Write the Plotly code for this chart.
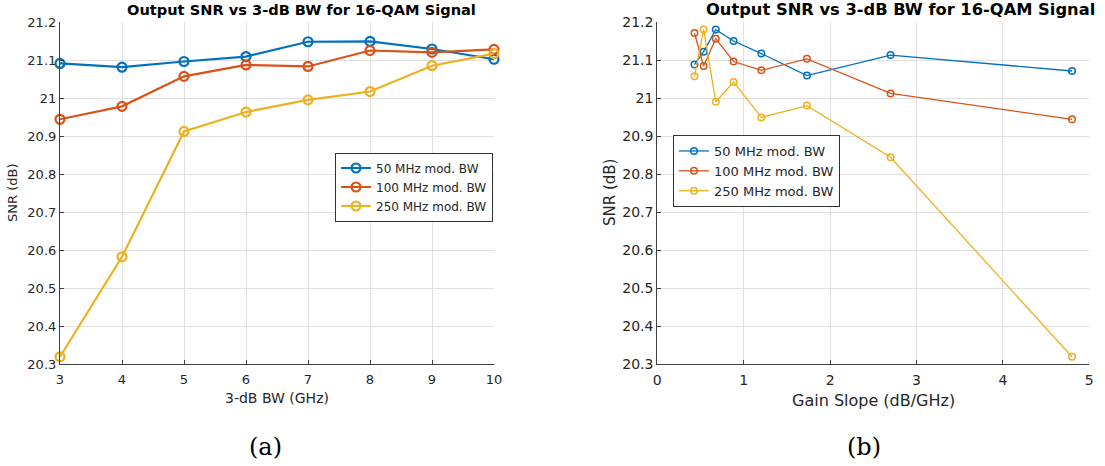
import plotly.graph_objects as go

# ---- data ----
bw_ghz = [3, 4, 5, 6, 7, 8, 9, 10]
snr_bw_50 = [21.091, 21.081, 21.096, 21.109, 21.148, 21.149, 21.129, 21.102]
snr_bw_100 = [20.944, 20.978, 21.057, 21.087, 21.083, 21.125, 21.120, 21.128]
snr_bw_250 = [20.319, 20.582, 20.912, 20.963, 20.995, 21.017, 21.085, 21.117]

gain_slope = [0.43, 0.536, 0.677, 0.883, 1.204, 1.732, 2.70, 4.80]
snr_gs_50 = [21.088, 21.122, 21.180, 21.150, 21.117, 21.059, 21.113, 21.071]
snr_gs_100 = [21.171, 21.084, 21.156, 21.096, 21.073, 21.103, 21.012, 20.944]
snr_gs_250 = [21.057, 21.180, 20.990, 21.042, 20.949, 20.980, 20.844, 20.319]

series_names = ["50 MHz mod. BW", "100 MHz mod. BW", "250 MHz mod. BW"]
colors = ["#0072BD", "#D95319", "#EDB120"]
title_text = "Output SNR vs 3-dB BW for 16-QAM Signal"

W, H = 1105, 466
FONT = "DejaVu Sans"
TXT = "#262626"


def px_x(p):
    return p / W


def px_y(p):
    return 1 - p / H


fig = go.Figure()

left_sets = [snr_bw_50, snr_bw_100, snr_bw_250]
right_sets = [snr_gs_50, snr_gs_100, snr_gs_250]

for name, col, ys in zip(series_names, colors, left_sets):
    fig.add_trace(go.Scatter(
        x=bw_ghz, y=ys, name=name, mode="lines+markers",
        line=dict(color=col, width=2.2),
        marker=dict(symbol="circle-open", size=9, color=col, line=dict(width=2.2, color=col)),
        xaxis="x", yaxis="y", legend="legend", cliponaxis=False,
    ))

for name, col, ys in zip(series_names, colors, right_sets):
    fig.add_trace(go.Scatter(
        x=gain_slope, y=ys, name=name, mode="lines+markers",
        line=dict(color=col, width=1.3),
        marker=dict(symbol="circle-open", size=6.5, color=col, line=dict(width=1.5, color=col)),
        xaxis="x2", yaxis="y2", legend="legend2", cliponaxis=False,
    ))

grid = "#e0e0e0"
ydom = [px_y(364), px_y(22)]

common_ax = dict(showgrid=True, gridcolor=grid, gridwidth=1, zeroline=False,
                 showline=True, linecolor="#404040", linewidth=1.2,
                 ticks="inside", ticklen=4, tickcolor="#404040",
                 color=TXT, mirror=False, automargin=False)

fig.update_layout(
    width=W, height=H,
    margin=dict(l=0, r=0, t=0, b=0, pad=0),
    paper_bgcolor="white", plot_bgcolor="white",
    showlegend=True,
    font=dict(family=FONT, color=TXT),
    xaxis=dict(domain=[px_x(60), px_x(494)], range=[3, 10], dtick=1, anchor="y",
               ticklabelstandoff=3,
               tickfont=dict(size=13, family=FONT), **common_ax),
    yaxis=dict(domain=ydom, range=[20.3, 21.2], dtick=0.1, anchor="x",
               tickformat="~r", tickfont=dict(size=13, family=FONT), **common_ax),
    xaxis2=dict(domain=[px_x(657.3), px_x(1089.3)], range=[0, 5], dtick=1, anchor="y2",
                ticklabelstandoff=3,
                tickfont=dict(size=14, family=FONT), **common_ax),
    yaxis2=dict(domain=ydom, range=[20.3, 21.2], dtick=0.1, anchor="x2",
                tickformat="~r", tickfont=dict(size=14, family=FONT), **common_ax),
    legend=dict(x=px_x(335), y=px_y(187), xanchor="left", yanchor="middle",
                bgcolor="white", bordercolor="#333333", borderwidth=1,
                font=dict(size=12, family=FONT, color=TXT),
                tracegroupgap=0, itemwidth=30),
    legend2=dict(x=px_x(673), y=px_y(171), xanchor="left", yanchor="middle",
                 bgcolor="white", bordercolor="#333333", borderwidth=1,
                 font=dict(size=13, family=FONT, color=TXT),
                 tracegroupgap=0, itemwidth=30),
)

ann = [
    dict(x=px_x(302), y=px_y(10), text=f"<b>{title_text}</b>", font=dict(size=14.6, family=FONT, color="black")),
    dict(x=px_x(900), y=px_y(10), text=f"<b>{title_text}</b>", font=dict(size=16.3, family=FONT, color="black")),
    dict(x=px_x(277), y=px_y(398), text="3-dB BW (GHz)", font=dict(size=14, family=FONT, color=TXT)),
    dict(x=px_x(873), y=px_y(400), text="Gain Slope (dB/GHz)", font=dict(size=16, family=FONT, color=TXT)),
    dict(x=px_x(12), y=px_y(193), text="SNR (dB)", textangle=-90, font=dict(size=13, family=FONT, color=TXT)),
    dict(x=px_x(610), y=px_y(193), text="SNR (dB)", textangle=-90, font=dict(size=15, family=FONT, color=TXT)),
    dict(x=px_x(265.5), y=px_y(447), text="(a)", font=dict(size=24, family="DejaVu Serif", color="black")),
    dict(x=px_x(864), y=px_y(447), text="(b)", font=dict(size=24, family="DejaVu Serif", color="black")),
]
for a in ann:
    a.update(xref="paper", yref="paper", showarrow=False, xanchor="center", yanchor="middle")
    fig.add_annotation(**a)

fig.write_html("out.html")
